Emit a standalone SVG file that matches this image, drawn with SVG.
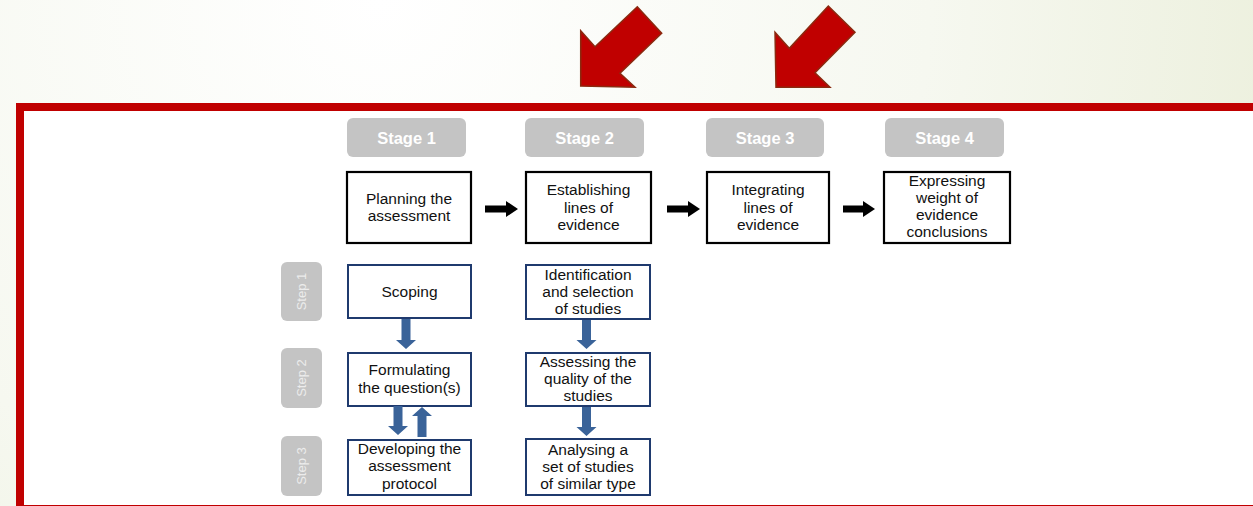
<svg xmlns="http://www.w3.org/2000/svg" width="1253" height="506" viewBox="0 0 1253 506">
<defs>
<radialGradient id="bg" cx="380" cy="0" r="1000" gradientUnits="userSpaceOnUse">
<stop offset="0" stop-color="#ffffff"/>
<stop offset="0.55" stop-color="#f6f8f0"/>
<stop offset="1" stop-color="#eaeed9"/>
</radialGradient>
<style>
.txt{font-family:"Liberation Sans",Arial,sans-serif;font-size:15.5px;fill:#111;text-anchor:middle}
.stage rect{fill:#c4c4c4}
.stage text{font-family:"Liberation Sans",Arial,sans-serif;font-size:16.5px;font-weight:bold;fill:#fff;text-anchor:middle}
.step rect{fill:#c4c4c4}
.step text{font-family:"Liberation Sans",Arial,sans-serif;font-size:13px;fill:#ececec;text-anchor:middle}
.main{fill:#fff;stroke:#000;stroke-width:2.2}
.sub{fill:#fff;stroke:#1f3a6e;stroke-width:2}
.blk{fill:#000}
.blu{fill:#3a6399}
.red{fill:#c00000;stroke:#8a2a10;stroke-width:1.5;stroke-linejoin:miter}
</style>
</defs>
<rect x="0" y="0" width="1253" height="506" fill="url(#bg)"/>
<g id="red-arrows">
<polygon class="red" points="580.7,30.7 595,46.7 637.3,6.7 661.7,33.3 620,73.3 635,87.3 580.7,86"/>
<polygon class="red" points="775,32.3 789.3,48.3 828.3,6 855,32.3 815,72.7 830,87.3 776,87.3"/>
</g>
<rect id="frame" x="20" y="107" width="1300" height="402" fill="#fff" stroke="#c00000" stroke-width="8"/>

<g id="stage1-label" class="stage"><rect x="347" y="118" width="119" height="39" rx="6"/><text x="406.5" y="144">Stage 1</text></g>
<g id="stage2-label" class="stage"><rect x="525" y="118" width="119" height="39" rx="6"/><text x="584.5" y="144">Stage 2</text></g>
<g id="stage3-label" class="stage"><rect x="706" y="118" width="118" height="39" rx="6"/><text x="765" y="144">Stage 3</text></g>
<g id="stage4-label" class="stage"><rect x="885" y="118" width="119" height="39" rx="6"/><text x="944.5" y="144">Stage 4</text></g>

<g id="stage1"><rect class="main" x="347" y="172" width="124" height="71"/>
<text class="txt" x="409" y="204">Planning the</text><text class="txt" x="409" y="221">assessment</text></g>
<g id="stage2"><rect class="main" x="526" y="172" width="125" height="71"/>
<text class="txt" x="588.5" y="195">Establishing</text><text class="txt" x="588.5" y="212.5">lines of</text><text class="txt" x="588.5" y="230">evidence</text></g>
<g id="stage3"><rect class="main" x="707" y="172" width="122" height="71"/>
<text class="txt" x="768" y="195">Integrating</text><text class="txt" x="768" y="212.5">lines of</text><text class="txt" x="768" y="230">evidence</text></g>
<g id="stage4"><rect class="main" x="884" y="172" width="126" height="71"/>
<text class="txt" x="947" y="186">Expressing</text><text class="txt" x="947" y="203">weight of</text><text class="txt" x="947" y="220">evidence</text><text class="txt" x="947" y="237">conclusions</text></g>

<g id="step1-label" class="step"><rect x="281" y="262" width="41" height="59" rx="6"/><text transform="translate(306,291.5) rotate(-90)">Step 1</text></g>
<g id="step2-label" class="step"><rect x="281" y="348" width="41" height="60" rx="6"/><text transform="translate(306,378) rotate(-90)">Step 2</text></g>
<g id="step3-label" class="step"><rect x="281" y="436" width="41" height="60" rx="6"/><text transform="translate(306,466) rotate(-90)">Step 3</text></g>

<g id="scoping"><rect class="sub" x="348" y="265" width="123" height="53"/><text class="txt" x="409.5" y="297">Scoping</text></g>
<g id="formulating"><rect class="sub" x="348" y="353" width="123" height="53"/><text class="txt" x="409.5" y="375">Formulating</text><text class="txt" x="409.5" y="393">the question(s)</text></g>
<g id="developing"><rect class="sub" x="348" y="440" width="123" height="55"/><text class="txt" x="409.5" y="454">Developing the</text><text class="txt" x="409.5" y="471">assessment</text><text class="txt" x="409.5" y="489">protocol</text></g>

<g id="identification"><rect class="sub" x="526" y="265" width="124" height="54"/><text class="txt" x="588" y="280">Identification</text><text class="txt" x="588" y="297">and selection</text><text class="txt" x="588" y="314">of studies</text></g>
<g id="assessing"><rect class="sub" x="526" y="353" width="124" height="53"/><text class="txt" x="588" y="367">Assessing the</text><text class="txt" x="588" y="384">quality of the</text><text class="txt" x="588" y="401">studies</text></g>
<g id="analysing"><rect class="sub" x="526" y="439" width="124" height="56"/><text class="txt" x="588" y="455">Analysing a</text><text class="txt" x="588" y="472">set of studies</text><text class="txt" x="588" y="489">of similar type</text></g>

<g id="connectors">
<polygon class="blk" points="485,205.5 506,205.5 506,201 518,209 506,217 506,212.5 485,212.5"/>
<polygon class="blk" points="667,205.5 688,205.5 688,201 700,209 688,217 688,212.5 667,212.5"/>
<polygon class="blk" points="843,205.5 863,205.5 863,201 875,209 863,217 863,212.5 843,212.5"/>
<polygon class="blu" points="401.5,319 410.5,319 410.5,340 416,340 406,349 396,340 401.5,340"/>
<polygon class="blu" points="393.5,406 402.5,406 402.5,426 408,426 398,435 388,426 393.5,426"/>
<polygon class="blu" points="417.5,437 426.5,437 426.5,416 432,416 422,407 412,416 417.5,416"/>
<polygon class="blu" points="582,320 591,320 591,340 596.5,340 586.5,349 576.5,340 582,340"/>
<polygon class="blu" points="582,407 591,407 591,427 596.5,427 586.5,436 576.5,427 582,427"/>
</g>
</svg>
